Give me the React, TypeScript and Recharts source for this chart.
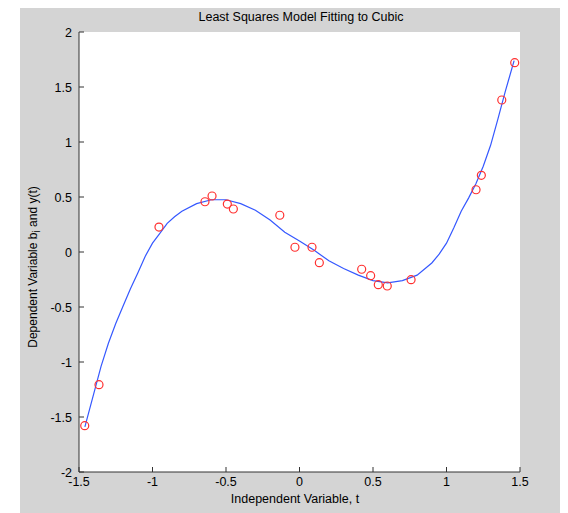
import { ScatterChart, Scatter, XAxis, YAxis, CartesianGrid } from 'recharts';

// fitted cubic
const fitT = [-1.46, -1.4, -1.35, -1.3, -1.25, -1.2, -1.15, -1.1, -1.05, -1.0, -0.95, -0.9, -0.85, -0.8, -0.7, -0.6, -0.5, -0.4, -0.3, -0.2, -0.1, 0, 0.1, 0.2, 0.3, 0.4, 0.5, 0.6, 0.7, 0.8, 0.9, 0.95, 1.0, 1.05, 1.1, 1.15, 1.2, 1.25, 1.3, 1.35, 1.4, 1.46];
const fitY = [-1.59, -1.29, -1.04, -0.83, -0.65, -0.49, -0.335, -0.19, -0.04, 0.08, 0.17, 0.26, 0.32, 0.37, 0.44, 0.475, 0.475, 0.44, 0.38, 0.29, 0.18, 0.1, 0.015, -0.08, -0.15, -0.21, -0.26, -0.28, -0.26, -0.21, -0.1, -0.02, 0.08, 0.22, 0.37, 0.49, 0.62, 0.78, 0.97, 1.21, 1.46, 1.74];

// measured samples b_i
const sampleT = [-1.461, -1.364, -0.956, -0.643, -0.595, -0.491, -0.45, -0.134, -0.031, 0.085, 0.135, 0.423, 0.484, 0.536, 0.597, 0.759, 1.201, 1.237, 1.376, 1.464];
const sampleB = [-1.579, -1.206, 0.227, 0.457, 0.509, 0.436, 0.391, 0.334, 0.043, 0.043, -0.097, -0.157, -0.215, -0.297, -0.309, -0.252, 0.566, 0.697, 1.382, 1.721];

const xTicks = [-1.5, -1, -0.5, 0, 0.5, 1, 1.5];
const yTicks = [-2, -1.5, -1, -0.5, 0, 0.5, 1, 1.5, 2];

const fitCurve = fitT.map((t, i) => ({ t, y: fitY[i] }));
const samples = sampleT.map((t, i) => ({ t, y: sampleB[i] }));

const font = '"Liberation Sans", Arial, sans-serif';
const axisColor = '#333';
const GAP = 6; // label distance from axis
const TICK = 5; // inward tick length

const NoDot = () => <g />;
const RedCircle = (p: any) => (
  <circle cx={p.cx} cy={p.cy} r={4} fill="none" stroke="#ff3030" strokeWidth={1.2} />
);

// MATLAB style: ticks point into the plot box
const BottomTick = ({ x, y, payload }: any) => {
  const ay = y - GAP;
  return (
    <g>
      <line x1={x} x2={x} y1={ay} y2={ay - TICK} stroke={axisColor} />
      <text x={x} y={ay + 14} textAnchor="middle" fontSize={12.5} fontFamily={font} fill="#000">
        {payload.value}
      </text>
    </g>
  );
};
const TopTick = ({ x, y }: any) => <line x1={x} x2={x} y1={y} y2={y + TICK} stroke={axisColor} />;
const LeftTick = ({ x, y, payload }: any) => {
  const ax = x + GAP;
  return (
    <g>
      <line x1={ax} x2={ax + TICK} y1={y} y2={y} stroke={axisColor} />
      <text x={x - 1} y={y + 4.5} textAnchor="end" fontSize={12.5} fontFamily={font} fill="#000">
        {payload.value}
      </text>
    </g>
  );
};
const RightTick = ({ x, y }: any) => <line x1={x} x2={x - TICK} y1={y} y2={y} stroke={axisColor} />;

export default function App() {
  return (
    <div style={{ position: 'relative', width: 568, height: 513, fontFamily: font }}>
      <div style={{ position: 'absolute', left: 12, top: -1, width: 543, height: 506, background: '#d4d4d4' }} />
      <div style={{ position: 'absolute', left: -8, top: -8 }}>
        <ScatterChart width={568} height={513} margin={{ top: 32, right: 48, left: 39, bottom: 11 }}>
          <CartesianGrid fill="#fff" horizontal={false} vertical={false} />
          <XAxis
            type="number"
            dataKey="t"
            domain={[-1.5, 1.5]}
            ticks={xTicks}
            height={30}
            tickSize={0}
            tickMargin={GAP}
            tickLine={false}
            tick={BottomTick}
            stroke={axisColor}
            interval={0}
          />
          <XAxis
            xAxisId="top"
            orientation="top"
            type="number"
            domain={[-1.5, 1.5]}
            ticks={xTicks}
            height={0}
            tickSize={0}
            tickMargin={0}
            tickLine={false}
            tick={TopTick}
            stroke={axisColor}
            interval={0}
          />
          <YAxis
            type="number"
            dataKey="y"
            domain={[-2, 2]}
            ticks={yTicks}
            width={40}
            tickSize={0}
            tickMargin={GAP}
            tickLine={false}
            tick={LeftTick}
            stroke={axisColor}
            interval={0}
          />
          <YAxis
            yAxisId="right"
            orientation="right"
            type="number"
            domain={[-2, 2]}
            ticks={yTicks}
            width={0}
            tickSize={0}
            tickMargin={0}
            tickLine={false}
            tick={RightTick}
            stroke={axisColor}
            interval={0}
          />
          <Scatter
            data={fitCurve}
            dataKey="y"
            line={{ stroke: '#3558ff', strokeWidth: 1.2 }}
            lineType="joint"
            shape={NoDot}
            isAnimationActive={false}
          />
          <Scatter data={samples} dataKey="y" shape={RedCircle} isAnimationActive={false} />
        </ScatterChart>
      </div>
      <div style={{ position: 'absolute', left: 93, top: 2, width: 400, textAlign: 'center', fontSize: 12.5, color: '#000' }}>
        Least Squares Model Fitting to Cubic
      </div>
      <div style={{ position: 'absolute', left: 137, top: 484, width: 300, textAlign: 'center', fontSize: 12.5, color: '#000' }}>
        Independent Variable, t
      </div>
      <div
        style={{
          position: 'absolute',
          left: 33 - 8 - 150,
          top: 267 - 8 - 8,
          width: 300,
          height: 16,
          lineHeight: '16px',
          textAlign: 'center',
          fontSize: 12,
          color: '#000',
          transform: 'rotate(-90deg)',
        }}
      >
        Dependent Variable b<sub style={{ fontSize: 10 }}>i</sub> and y(t)
      </div>
    </div>
  );
}
